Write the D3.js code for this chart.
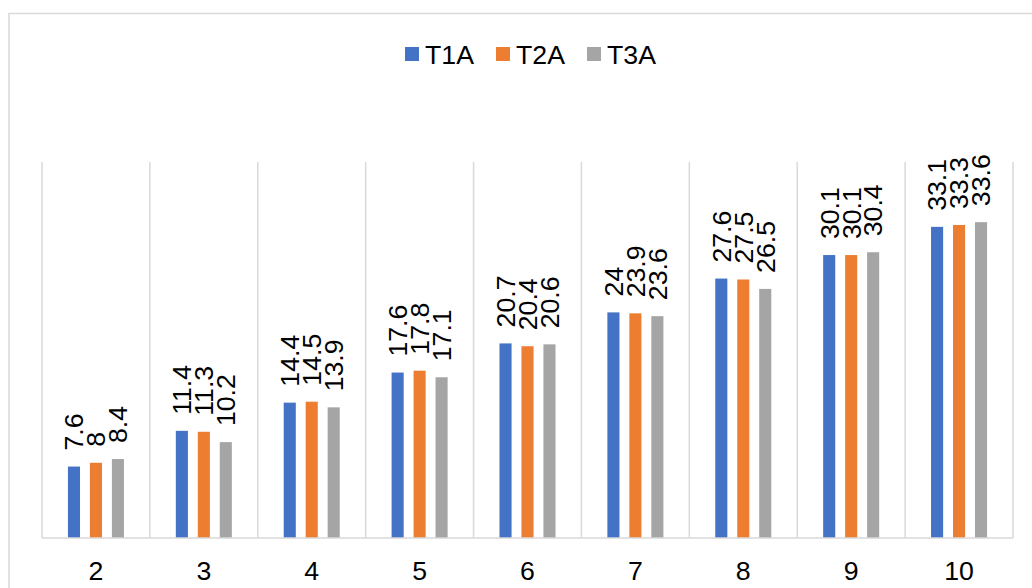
<!DOCTYPE html>
<meta charset="utf-8">
<style>
body { margin: 0; background: #fff; }
text { font-family: "Liberation Sans", Arial, sans-serif; fill: #000; }
</style>
<svg width="1032" height="588"></svg>
<script src="https://cdn.jsdelivr.net/npm/d3@7"></script>
<script>

var categories = ["2", "3", "4", "5", "6", "7", "8", "9", "10"]
var series = ["T1A", "T2A", "T3A"]
var colors = ["#4472C4", "#ED7D31", "#A5A5A5"]
var t1a = [7.6, 11.4, 14.4, 17.6, 20.7, 24, 27.6, 30.1, 33.1]
var t2a = [8, 11.3, 14.5, 17.8, 20.4, 23.9, 27.5, 30.1, 33.3]
var t3a = [8.4, 10.2, 13.9, 17.1, 20.6, 23.6, 26.5, 30.4, 33.6]
var values = [t1a, t2a, t3a]

var svg = d3.select("svg")

// chart area border (only left + top visible)
svg.append("path")
  .attr("d", "M9,600V13.5H1040")
  .attr("fill", "none")
  .attr("stroke", "#d9d9d9")
  .attr("stroke-width", 1.5)

var plotLeft = 42, plotRight = 1013, plotTop = 162, plotBottom = 538

var x0 = d3.scaleBand().domain(categories).range([plotLeft, plotRight])
var x1 = d3.scaleBand().domain(series).range([0, x0.bandwidth()])
  .paddingInner(0.45).paddingOuter(1.18)
var y = d3.scaleLinear().domain([0, 40]).range([plotBottom, plotTop])

// vertical gridlines at category boundaries
var bounds = categories.map(function(c) { return x0(c) }).concat([plotRight])
svg.append("g").selectAll("line")
  .data(bounds)
  .enter().append("line")
    .attr("x1", function(d) { return d }).attr("x2", function(d) { return d })
    .attr("y1", plotTop).attr("y2", plotBottom)
    .attr("stroke", "#d9d9d9")
    .attr("stroke-width", 1.5)

// bars
var groups = svg.append("g").selectAll("g")
  .data(series)
  .enter().append("g")
    .attr("fill", function(d, i) { return colors[i] })

function rows(s, i) {
  return values[i].map(function(v, j) { return { s: s, c: categories[j], v: v } })
}

groups.selectAll("rect")
  .data(rows)
  .enter().append("rect")
    .attr("x", function(d) { return x0(d.c) + x1(d.s) })
    .attr("width", x1.bandwidth())
    .attr("y", function(d) { return y(d.v) })
    .attr("height", function(d) { return plotBottom - y(d.v) })

// data labels, rotated
groups.selectAll("text")
  .data(rows)
  .enter().append("text")
    .attr("transform", function(d) {
      var cx = x0(d.c) + x1(d.s) + x1.bandwidth() / 2
      return "translate(" + cx + "," + (y(d.v) - 16) + ") rotate(-90)"
    })
    .attr("dy", "0.35em")
    .attr("font-size", "26.7px")
    .style("fill", "#000")
    .text(function(d) { return d.v })

// baseline
svg.append("line")
  .attr("x1", plotLeft).attr("x2", plotRight)
  .attr("y1", plotBottom).attr("y2", plotBottom)
  .attr("stroke", "#d9d9d9")
  .attr("stroke-width", 1.5)

// x axis labels
var xAxis = d3.axisBottom(x0).tickSize(0).tickPadding(0)
var ax = svg.append("g").attr("transform", "translate(0," + plotBottom + ")").call(xAxis)
ax.select(".domain").remove()
ax.selectAll("text")
  .attr("y", 42).attr("dy", 0)
  .attr("font-size", "26.7px")
  .attr("font-family", "Liberation Sans, Arial, sans-serif")
  .attr("fill", "#000")

// legend
var legendX = [405, 496, 587]
var legend = svg.append("g").selectAll("g")
  .data(series)
  .enter().append("g")
    .attr("transform", function(d, i) { return "translate(" + legendX[i] + ",47)" })
legend.append("rect")
  .attr("width", 14).attr("height", 14)
  .attr("fill", function(d, i) { return colors[i] })
legend.append("text")
  .attr("x", 20).attr("y", 16.5)
  .attr("font-size", "26.7px")
  .text(function(d) { return d })

</script>
